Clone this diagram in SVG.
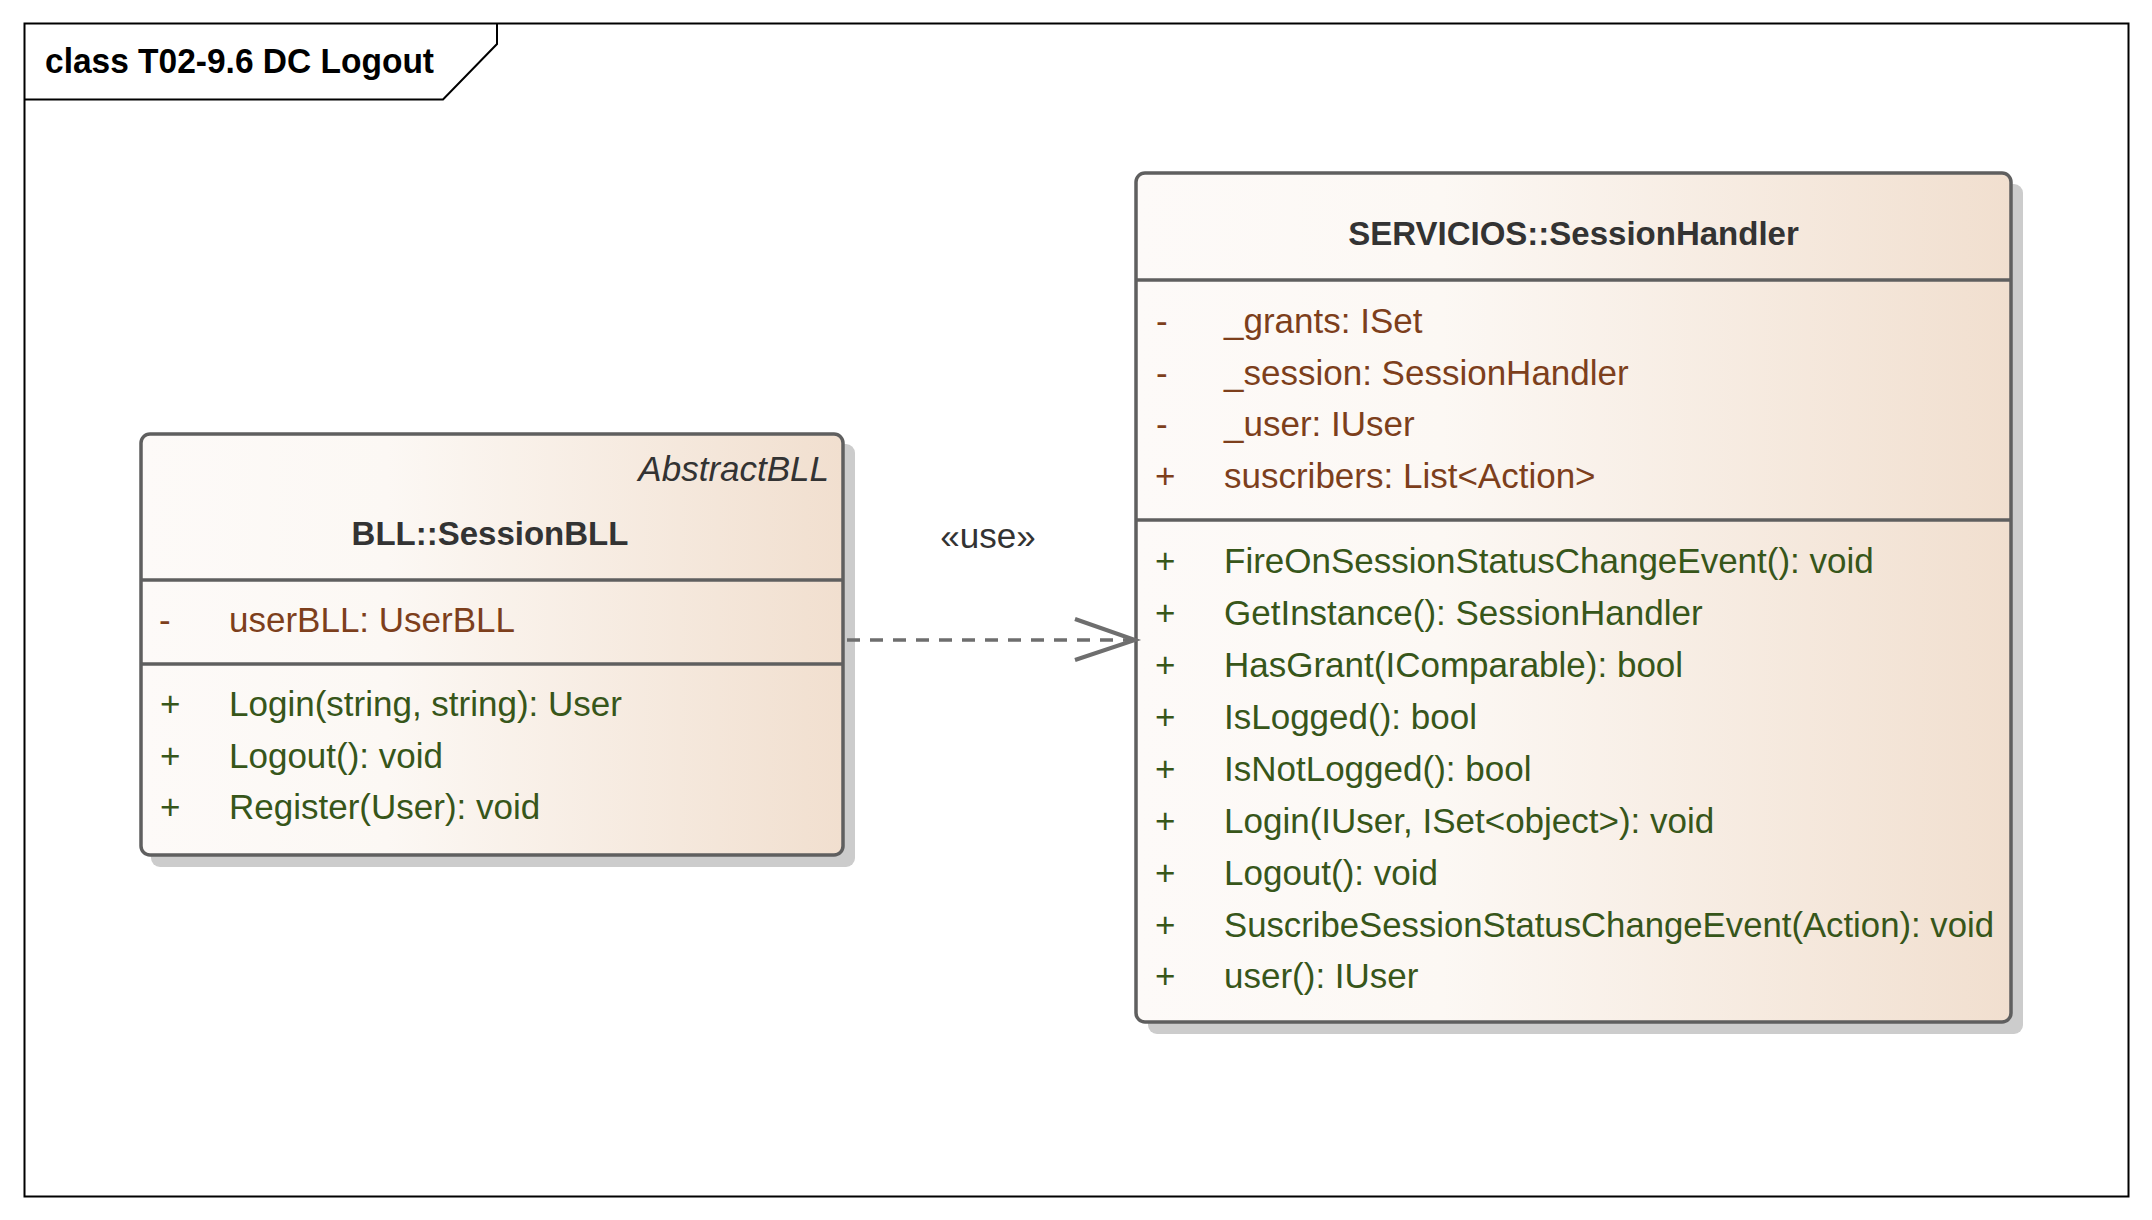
<svg xmlns="http://www.w3.org/2000/svg" width="2152" height="1220" viewBox="0 0 2152 1220">
<defs>
<linearGradient id="g" x1="0" y1="0" x2="1" y2="0">
<stop offset="0" stop-color="#fdfaf8"/>
<stop offset="0.35" stop-color="#fcf8f4"/>
<stop offset="1" stop-color="#f1dfcf"/>
</linearGradient>
<style>
text{font-family:"Liberation Sans",Arial,sans-serif;font-size:35px}
.box{fill:url(#g);stroke:#5f5f5f;stroke-width:3.5}
.sh{fill:#cccccc}
.div{stroke:#5f5f5f;stroke-width:3.5}
.name{font-weight:bold;fill:#333333;font-size:33px}
.attr{fill:#7d3f1c}
.op{fill:#37561a}
.st{fill:#333333;font-style:italic}
</style>
</defs>
<rect width="2152" height="1220" fill="#ffffff"/>
<g id="frame">
<rect x="24.5" y="23.5" width="2104" height="1173" fill="none" stroke="#000" stroke-width="2"/>
<path d="M24.5 99.5 H443 L497 44 V23.5" fill="none" stroke="#000" stroke-width="2"/>
<text x="45" y="73" font-weight="bold" fill="#000" font-size="32.5" textLength="389" lengthAdjust="spacingAndGlyphs">class T02-9.6 DC Logout</text>
</g>
<g id="SessionBLL">
<rect class="sh" x="151" y="444" width="704" height="423" rx="9"/>
<rect class="box" x="141" y="434" width="702" height="421" rx="9"/>
<line class="div" x1="141" y1="580" x2="843" y2="580"/>
<line class="div" x1="141" y1="664" x2="843" y2="664"/>
<text class="st" x="829" y="481" text-anchor="end">AbstractBLL</text>
<text class="name" x="490" y="545" text-anchor="middle" font-size="31">BLL::SessionBLL</text>
<text class="attr" x="159" y="632">-</text>
<text class="attr" x="229" y="632">userBLL: UserBLL</text>
<text class="op" x="160" y="716">+</text>
<text class="op" x="229" y="716">Login(string, string): User</text>
<text class="op" x="160" y="768">+</text>
<text class="op" x="229" y="768">Logout(): void</text>
<text class="op" x="160" y="819">+</text>
<text class="op" x="229" y="819">Register(User): void</text>
</g>
<g id="SessionHandler">
<rect class="sh" x="1148" y="184" width="875" height="850" rx="9"/>
<rect class="box" x="1136" y="173" width="875" height="849" rx="9"/>
<line class="div" x1="1136" y1="280" x2="2011" y2="280"/>
<line class="div" x1="1136" y1="520" x2="2011" y2="520"/>
<text class="name" x="1573.5" y="245" text-anchor="middle">SERVICIOS::SessionHandler</text>
<g class="attr">
<text x="1156" y="333">-</text><text x="1224" y="333">_grants: ISet</text>
<text x="1156" y="385">-</text><text x="1224" y="385">_session: SessionHandler</text>
<text x="1156" y="436">-</text><text x="1224" y="436">_user: IUser</text>
<text x="1155" y="488">+</text><text x="1224" y="488">suscribers: List&lt;Action&gt;</text>
</g>
<g class="op">
<text x="1155" y="573">+</text><text x="1224" y="573">FireOnSessionStatusChangeEvent(): void</text>
<text x="1155" y="625">+</text><text x="1224" y="625">GetInstance(): SessionHandler</text>
<text x="1155" y="677">+</text><text x="1224" y="677">HasGrant(IComparable): bool</text>
<text x="1155" y="729">+</text><text x="1224" y="729">IsLogged(): bool</text>
<text x="1155" y="781">+</text><text x="1224" y="781">IsNotLogged(): bool</text>
<text x="1155" y="833">+</text><text x="1224" y="833">Login(IUser, ISet&lt;object&gt;): void</text>
<text x="1155" y="885">+</text><text x="1224" y="885">Logout(): void</text>
<text x="1155" y="937">+</text><text x="1224" y="937" textLength="770" lengthAdjust="spacingAndGlyphs">SuscribeSessionStatusChangeEvent(Action): void</text>
<text x="1155" y="988">+</text><text x="1224" y="988">user(): IUser</text>
</g>
</g>
<g id="connectors">
<line x1="847" y1="640" x2="1132" y2="640" stroke="#6e6e6e" stroke-width="3.5" stroke-dasharray="13 10"/>
<path d="M1075 619 L1135 640 L1075 660" fill="none" stroke="#6e6e6e" stroke-width="4" stroke-linejoin="miter"/>
<text x="988" y="548" text-anchor="middle" fill="#333333" font-size="34">«use»</text>
</g>
</svg>
